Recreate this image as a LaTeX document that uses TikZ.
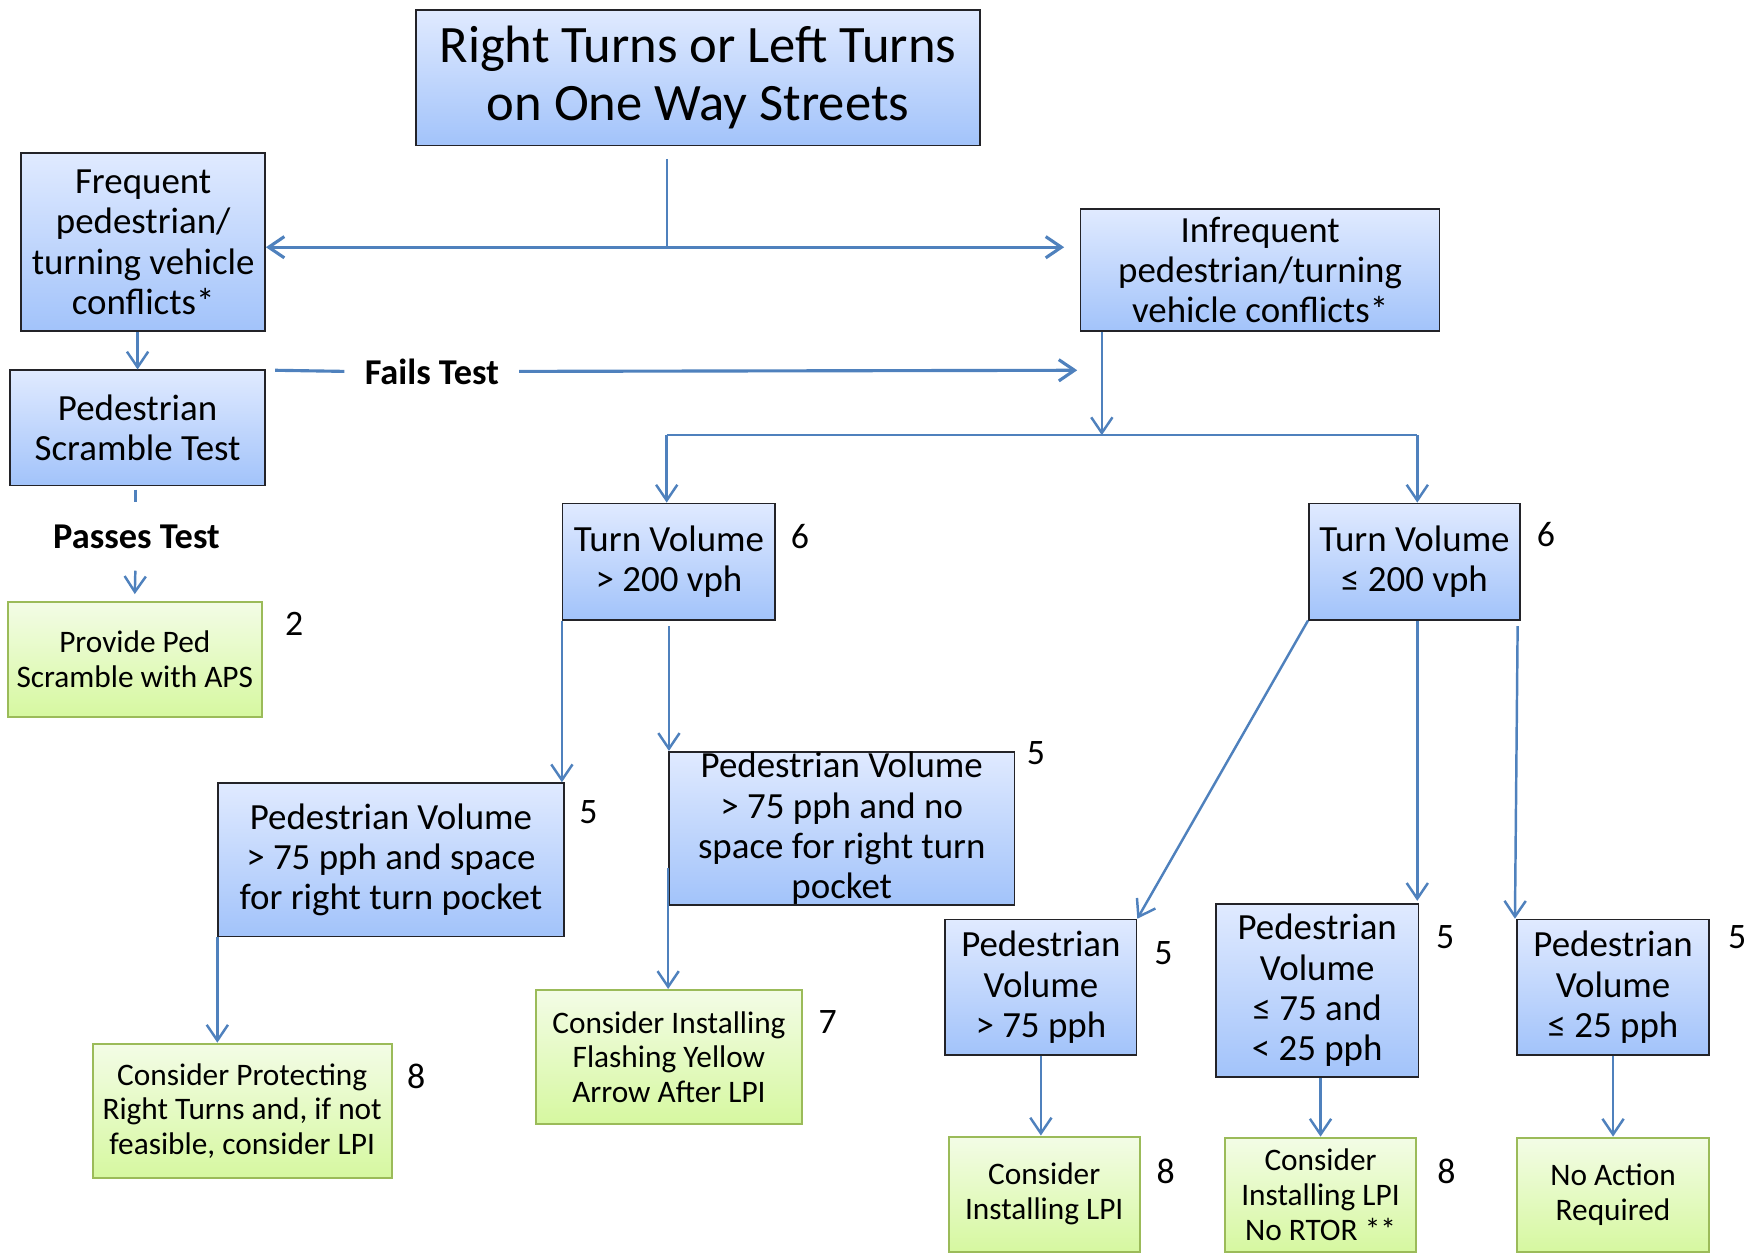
\documentclass[tikz,border=0pt]{standalone}
\usepackage{fontspec}
\setmainfont{Carlito}
\usetikzlibrary{arrows.meta}
\definecolor{lineblue}{RGB}{79,129,189}
\definecolor{bluetop}{RGB}{224,234,255}
\definecolor{bluebot}{RGB}{162,195,250}
\definecolor{greentop}{RGB}{243,252,230}
\definecolor{greenbot}{RGB}{214,248,160}
\definecolor{greenedge}{RGB}{155,187,89}
\definecolor{darkedge}{RGB}{35,35,40}
\tikzset{
  bluebox/.style={draw=darkedge, line width=1.4pt, top color=bluetop, bottom color=bluebot, inner sep=0pt, rectangle},
  greenbox/.style={draw=greenedge, line width=1.8pt, top color=greentop, bottom color=greenbot, inner sep=0pt, rectangle},
  btext/.style={align=center, inner sep=0pt, font=\fontsize{33}{36}\selectfont},
  gtext/.style={align=center, inner sep=0pt, font=\fontsize{28}{31}\selectfont},
  numlbl/.style={inner sep=0pt, font=\fontsize{32}{36}\selectfont},
  conn/.style={draw=lineblue, line width=2.2pt},
  thinconn/.style={draw=lineblue, line width=1.8pt},
  heavy/.style={draw=lineblue, line width=2.8pt},
  arr/.style={conn, -{Straight Barb[length=14pt,width=19pt]}},
  harr/.style={heavy, -{Straight Barb[length=14pt,width=19pt]}},
}
\begin{document}
\begin{tikzpicture}[x=1pt,y=-1pt]
\useasboundingbox (0,0) rectangle (1568,1120);

% boxes
\node[bluebox, minimum width=504pt, minimum height=121pt] (title) at (624,69.5) {};
\node[align=center, inner sep=0pt, font=\fontsize{47}{52}\selectfont] (title-t) at (title.center) {Right Turns or Left Turns\\on One Way Streets};

\node[bluebox, minimum width=218pt, minimum height=159pt] (freq) at (128,216.5) {};
\node[btext] (freq-t) at (freq.center) {Frequent\\pedestrian/\\turning vehicle\\conflicts*};

\node[bluebox, minimum width=228pt, minimum height=103pt] (scr) at (123,382.5) {};
\node[btext] (scr-t) at (scr.center) {Pedestrian\\Scramble Test};

\node[bluebox, minimum width=321pt, minimum height=109pt] (infr) at (1126.5,241.5) {};
\node[btext] (infr-t) at (infr.center) {Infrequent\\pedestrian/turning\\vehicle conflicts*};

\node[bluebox, minimum width=190pt, minimum height=104pt] (tv1) at (598,502) {};
\node[btext] (tv1-t) at (tv1.center) {Turn Volume\\> 200 vph};

\node[bluebox, minimum width=189pt, minimum height=104pt] (tv2) at (1264.5,502) {};
\node[btext] (tv2-t) at (tv2.center) {Turn Volume\\≤ 200 vph};

\node[greenbox, minimum width=227pt, minimum height=103pt] (prov) at (120.5,589.5) {};
\node[gtext] (prov-t) at (prov.center) {Provide Ped\\Scramble with APS};

\node[bluebox, minimum width=309pt, minimum height=137pt] (pv1) at (349.5,768.5) {};
\node[btext] (pv1-t) at (pv1.center) {Pedestrian Volume\\> 75 pph and space\\for right turn pocket};

\node[bluebox, minimum width=309pt, minimum height=137pt] (pv2) at (752.5,740.5) {};
\node[btext] (pv2-t) at (pv2.center) {Pedestrian Volume\\> 75 pph and no\\space for right turn\\pocket};

\node[bluebox, minimum width=171pt, minimum height=121pt] (pv3) at (930.5,882.5) {};
\node[btext] (pv3-t) at (pv3.center) {Pedestrian\\Volume\\> 75 pph};

\node[bluebox, minimum width=181pt, minimum height=155pt] (pv4) at (1177.5,885.5) {};
\node[btext] (pv4-t) at (pv4.center) {Pedestrian\\Volume\\≤ 75 and\\< 25 pph};

\node[bluebox, minimum width=172pt, minimum height=121pt] (pv5) at (1442,882.5) {};
\node[btext] (pv5-t) at (pv5.center) {Pedestrian\\Volume\\≤ 25 pph};

\node[greenbox, minimum width=267pt, minimum height=120pt] (g1) at (216.5,993) {};
\node[gtext] (g1-t) at (g1.center) {Consider Protecting\\Right Turns and, if not\\feasible, consider LPI};

\node[greenbox, minimum width=238pt, minimum height=120pt] (g2) at (598,945) {};
\node[gtext] (g2-t) at (g2.center) {Consider Installing\\Flashing Yellow\\Arrow After LPI};

\node[greenbox, minimum width=171pt, minimum height=103pt] (g3) at (933.5,1067.5) {};
\node[gtext] (g3-t) at (g3.center) {Consider\\Installing LPI};

\node[greenbox, minimum width=171pt, minimum height=102pt] (g4) at (1180.5,1068) {};
\node[gtext] (g4-t) at (g4.center) {Consider\\Installing LPI\\No RTOR **};

\node[greenbox, minimum width=172pt, minimum height=102pt] (g5) at (1442,1068) {};
\node[gtext] (g5-t) at (g5.center) {No Action\\Required};

% number labels
\node[numlbl] (n-tv1) at (715,480) {6};
\node[numlbl] (n-tv2) at (1382,478) {6};
\node[numlbl] (n-prov) at (263,558) {2};
\node[numlbl] (n-pv1) at (526,726) {5};
\node[numlbl] (n-pv2) at (926,673) {5};
\node[numlbl] (n-pv3) at (1040,852) {5};
\node[numlbl] (n-pv4) at (1292,838) {5};
\node[numlbl] (n-pv5) at (1553,838) {5};
\node[numlbl] (n-g1) at (372,962) {8};
\node[numlbl] (n-g2) at (740,914) {7};
\node[numlbl] (n-g3) at (1042,1047) {8};
\node[numlbl] (n-g4) at (1293,1047) {8};

% test labels
\node[inner xsep=18pt, inner ysep=0pt, font=\fontsize{32.5}{36}\selectfont\bfseries] (fails) at (386,332) {Fails Test};
\node[inner sep=0pt, minimum height=61pt, font=\fontsize{32.5}{36}\selectfont\bfseries] (pass) at (122,479.5) {Passes Test};

% connectors
\coordinate (t1) at (596,142);
\coordinate (j1) at (596,221);
\draw[thinconn] (t1) -- (j1);
\draw[harr] (j1) -- (j1 -| freq.east);
\draw[harr, shorten >=14pt] (j1) -- (j1 -| infr.west);

\draw[arr] (freq.south -| scr.north) -- (scr.north);

\coordinate (f0) at (246,331);
\coordinate (f1) at (963,331);
\draw[heavy] (f0) -- (fails.west);
\draw[harr] (fails.east) -- (f1);

\coordinate (j2) at (985,389);
\draw[arr] (infr.south -| j2) -- (j2);
\coordinate (j3) at (596,389);
\coordinate (j4) at (1267,389);
\draw[thinconn] (j3) -- (j4);
\draw[arr] (j3) -- (j3 |- tv1.north);
\draw[arr] (j4) -- (j4 |- tv2.north);

\draw[conn] ([xshift=-2pt,yshift=-3pt]scr.south) -- ([xshift=-1pt]pass.north);
\draw[arr] ([xshift=-1pt]pass.south) -- ([yshift=6pt]prov.north);

\draw[arr] (tv1.south west) -- (tv1.south west |- pv1.north);
\draw[arr] ([yshift=-5pt]tv1.south) -- (tv1.south |- pv2.north);
\draw[arr] (pv1.south west) -- (pv1.south west |- g1.north);
\draw[arr] ([yshift=-35pt]pv2.west) -- (pv2.west |- g2.north);

\draw[arr] (tv2.south west) -- (pv3.north east);
\draw[arr] (j4 |- tv2.south) -- ([yshift=2pt]j4 |- pv4.north);
\draw[arr] ([xshift=-3pt,yshift=-5pt]tv2.south east) -- ([xshift=-1pt]pv5.north west);

\draw[arr] (pv3.south) -- (pv3.south |- g3.north);
\draw[arr] (g4.north |- pv4.south) -- (g4.north);
\draw[arr] (pv5.south) -- (g5.north);
\end{tikzpicture}
\end{document}
